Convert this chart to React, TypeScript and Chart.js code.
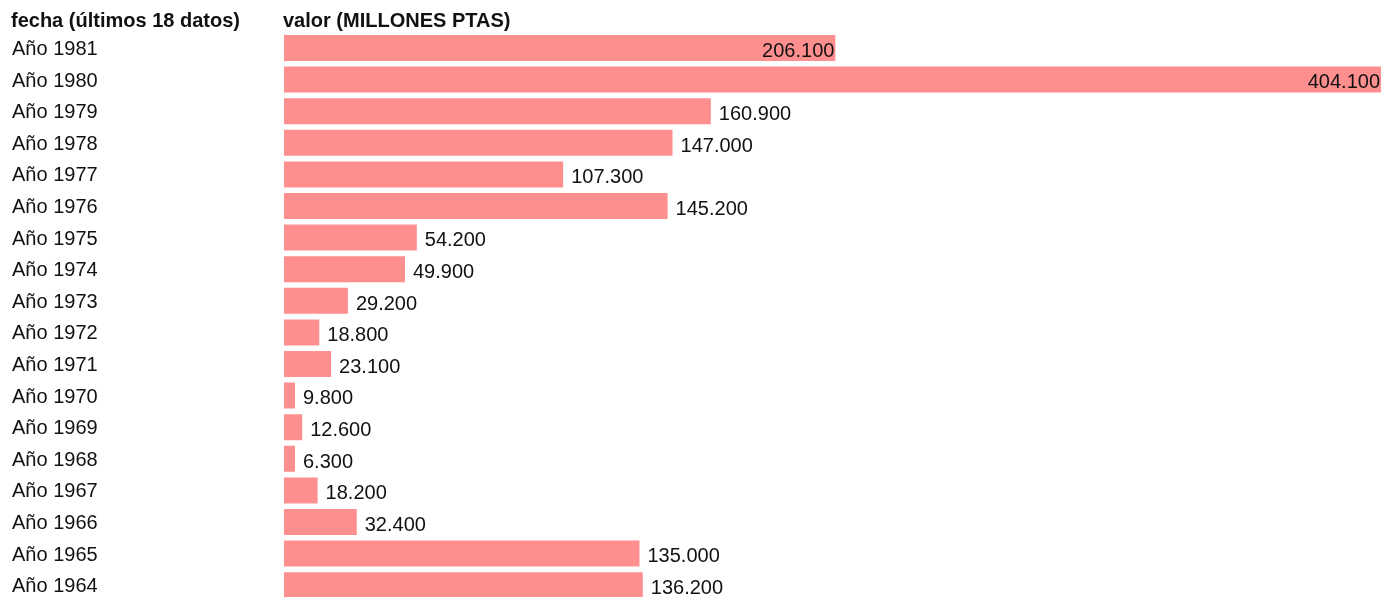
import React, { useEffect, useRef } from "react";
import { Chart, registerables } from "chart.js";

Chart.register(...registerables);

const categories = [
  "Año 1981", "Año 1980", "Año 1979", "Año 1978", "Año 1977", "Año 1976",
  "Año 1975", "Año 1974", "Año 1973", "Año 1972", "Año 1971", "Año 1970",
  "Año 1969", "Año 1968", "Año 1967", "Año 1966", "Año 1965", "Año 1964",
];
const values = [
  206100, 404100, 160900, 147000, 107300, 145200, 54200, 49900, 29200,
  18800, 23100, 9800, 12600, 6300, 18200, 32400, 135000, 136200,
];
const headerLeft = "fecha (últimos 18 datos)";
const headerRight = "valor (MILLONES PTAS)";
const axisMin = 6000;
const axisMax = 404100;

const FONT = "'Liberation Sans', Arial, sans-serif";
const FS = 20;

function fmt(v: number): string {
  const s = Math.round(v).toString();
  return s.replace(/\B(?=(\d{3})+(?!\d))/g, ".");
}

export default function App() {
  const ref = useRef<HTMLCanvasElement | null>(null);
  useEffect(() => {
    if (!ref.current) return;
    const maxV = Math.max(...values);
    const labelPlugin = {
      id: "labels",
      afterDatasetsDraw(chart: any) {
        const ctx = chart.ctx;
        const meta = chart.getDatasetMeta(0);
        ctx.save();
        ctx.font = `${FS}px ${FONT}`;
        ctx.fillStyle = "#111";
        ctx.textBaseline = "alphabetic";
        meta.data.forEach((bar: any, i: number) => {
          const v = values[i];
          const y = bar.y + FS * 0.36 + 1.5;
          if (v > maxV / 2) {
            ctx.textAlign = "right";
            ctx.fillText(fmt(v), bar.x - 1, y);
          } else {
            ctx.textAlign = "left";
            ctx.fillText(fmt(v), bar.x + 8, y);
          }
        });
        ctx.font = `bold ${FS}px ${FONT}`;
        ctx.textAlign = "left";
        ctx.fillText(headerLeft, 11, 27);
        ctx.fillText(headerRight, chart.chartArea.left - 1, 27);
        ctx.restore();
      },
    };
    const chart = new Chart(ref.current, {
      type: "bar",
      data: {
        labels: categories,
        datasets: [
          {
            data: values,
            base: axisMin,
            backgroundColor: "rgb(255,143,143)",
            borderWidth: 0,
            barPercentage: 0.822,
            categoryPercentage: 1,
            minBarLength: 11,
          },
        ],
      },
      options: {
        indexAxis: "y",
        responsive: false,
        animation: false,
        events: [],
        layout: { padding: { left: 12, right: 10, top: 32.2, bottom: 0 } },
        plugins: { legend: { display: false }, tooltip: { enabled: false } },
        scales: {
          x: {
            display: false,
            min: axisMin,
            max: axisMax,
          },
          y: {
            grid: { display: false },
            border: { display: false },
            ticks: {
              crossAlign: "far",
              color: "#111",
              padding: 0,
              labelOffset: 1.5,
              font: { size: FS, family: FONT },
            },
            afterFit(scale: any) {
              scale.width = 272;
            },
          },
        },
      },
      plugins: [labelPlugin],
    } as any);
    return () => chart.destroy();
  }, []);
  return (
    <div
      style={{
        position: "fixed",
        left: 0,
        top: 0,
        width: 1391,
        height: 597,
        overflow: "hidden",
        background: "#fff",
      }}
    >
      <canvas ref={ref} width={1391} height={613} style={{ display: "block" }} />
    </div>
  );
}
